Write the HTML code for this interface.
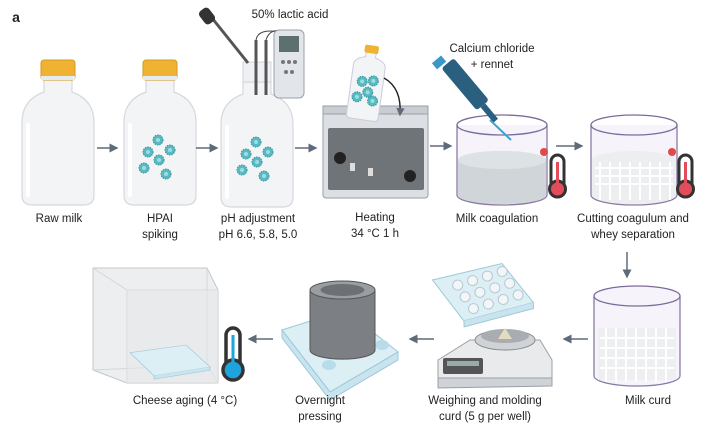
<!DOCTYPE html>
<html><head><meta charset="utf-8"><style>
html,body{margin:0;padding:0;background:#fff;}
svg{display:block;font-family:"Liberation Sans",sans-serif;}
text{font-size:11.5px;fill:#222;text-anchor:middle;}
</style></head><body>
<svg width="713" height="425" viewBox="0 0 713 425" xmlns="http://www.w3.org/2000/svg">
<defs>
<marker id="ah" markerWidth="6" markerHeight="6" refX="5" refY="3" orient="auto"><path d="M0,0 L6,3 L0,6 z" fill="#5f6b7a"/></marker>
<g id="bottle">
<path d="M-14,20 L-14,32 Q-36,40 -36,62 L-36,135 Q-36,145 -26,145 L26,145 Q36,145 36,135 L36,62 Q36,40 14,32 L14,20 Z" fill="#f3f4f6" stroke="#d5d8de" stroke-width="1.2"/>
<path d="M-30,65 L-30,135" stroke="#fff" stroke-width="4" stroke-linecap="round"/>
</g>
<g id="cap"><rect x="-17" y="0" width="34" height="20" rx="3" fill="#f0b233" stroke="#d99a1e"/><rect x="-17" y="16" width="34" height="4" fill="#e6ebf0"/></g>
<g id="virus"><circle r="5" fill="#58b9c0" stroke="#2f95a0" stroke-dasharray="1.5 1"/><circle r="2" fill="#9ddde1"/></g>
<g id="viruses">
<use href="#virus" x="0" y="-18"/><use href="#virus" x="-10" y="-6"/><use href="#virus" x="12" y="-8"/><use href="#virus" x="1" y="2"/><use href="#virus" x="-14" y="10"/><use href="#virus" x="8" y="16"/>
</g>
<g id="plate">
<path d="M0,14 L70,0 L100,40 L30,56 Z" fill="#dceff5" stroke="#9cc8d8"/>
<path d="M30,56 L30,62 L100,46 L100,40" fill="#c9e4ee" stroke="#9cc8d8"/>
</g>
</defs>

<text x="16" y="22" style="font-weight:bold;font-size:14px">a</text>

<use href="#bottle" x="58" y="60"/><use href="#cap" x="58" y="60"/>
<use href="#bottle" x="160" y="60"/><use href="#cap" x="160" y="60"/>
<use href="#viruses" x="158" y="158"/>
<use href="#bottle" x="257" y="62"/>
<rect x="243" y="62" width="28" height="20" fill="#eef0f3" stroke="#d0d4da"/>
<use href="#viruses" x="256" y="160"/>
<line x1="212" y1="18" x2="248" y2="63" stroke="#555" stroke-width="3"/>
<rect x="201" y="8" width="12" height="16" rx="4" fill="#333" transform="rotate(-38 207 16)"/>
<line x1="256" y1="40" x2="256" y2="95" stroke="#555" stroke-width="3"/>
<line x1="266" y1="40" x2="266" y2="95" stroke="#555" stroke-width="3"/>
<path d="M256,40 Q258,28 280,32 M266,40 Q270,26 290,32" stroke="#444" fill="none"/>
<rect x="274" y="30" width="30" height="68" rx="5" fill="#e2e5ea" stroke="#9aa0a8"/>
<rect x="279" y="36" width="20" height="16" fill="#5d6f6f"/>
<circle cx="283" cy="62" r="2" fill="#777"/><circle cx="289" cy="62" r="2" fill="#777"/><circle cx="295" cy="62" r="2" fill="#777"/>
<circle cx="286" cy="72" r="2" fill="#777"/><circle cx="292" cy="72" r="2" fill="#777"/>
<text x="290" y="18">50% lactic acid</text>

<rect x="323" y="106" width="105" height="92" rx="3" fill="#dcdfe3" stroke="#9aa0a8"/>
<rect x="323" y="106" width="105" height="8" fill="#c9ccd1" stroke="#9aa0a8"/>
<g transform="rotate(8 366 90)">
<path d="M350,66 L350,116 Q350,120 354,120 L378,120 Q382,120 382,116 L382,66 Q382,60 371,57 L371,52 L361,52 L361,57 Q350,60 350,66Z" fill="#f3f4f6" stroke="#ccd"/>
<rect x="359" y="45" width="14" height="8" rx="2" fill="#f0b233"/>
<use href="#virus" x="361" y="82"/><use href="#virus" x="372" y="80"/><use href="#virus" x="368" y="92"/><use href="#virus" x="358" y="98"/><use href="#virus" x="374" y="100"/>
</g>
<path d="M384,78 Q402,88 400,115" stroke="#222" stroke-width="1.4" fill="none" marker-end="url(#ah)"/>
<rect x="328" y="128" width="96" height="62" rx="2" fill="#6f7479"/>
<circle cx="340" cy="158" r="6" fill="#222"/><circle cx="410" cy="176" r="6" fill="#222"/>
<rect x="350" y="163" width="5" height="8" fill="#ddd"/><rect x="368" y="168" width="5" height="8" fill="#ddd"/>
<text x="375" y="221">Heating</text><text x="375" y="237">34 °C 1 h</text>

<path d="M457,125 L457,195 A45,10 0 0 0 547,195 L547,125" fill="#f6f3fa" stroke="#8a7aa6" stroke-width="1.3"/>
<path d="M458,160 A44,9 0 0 1 546,160 L546,195 A44,9 0 0 1 458,195Z" fill="#cfd5d9"/>
<ellipse cx="502" cy="160" rx="44" ry="9" fill="#dde2e5"/>
<ellipse cx="502" cy="125" rx="45" ry="10" fill="none" stroke="#7d6a9c" stroke-width="1.3"/>
<g transform="rotate(-40 470 90)"><rect x="462" y="55" width="16" height="55" rx="3" fill="#2a5f80"/><rect x="467" y="110" width="6" height="20" fill="#2a5f80"/><rect x="458" y="45" width="12" height="8" fill="#3a98c8"/></g>
<line x1="490" y1="120" x2="511" y2="140" stroke="#3ba3d0" stroke-width="2"/>
<text x="492" y="52">Calcium chloride</text><text x="492" y="68">+ rennet</text>
<circle cx="544" cy="152" r="4" fill="#e04a4a"/>
<rect x="551" y="155" width="13" height="35" rx="6.5" fill="#fff" stroke="#333" stroke-width="3"/>
<circle cx="557.5" cy="189" r="8" fill="#e34c5a" stroke="#333" stroke-width="3"/>
<line x1="557.5" y1="162" x2="557.5" y2="185" stroke="#e34c5a" stroke-width="3"/>
<text x="497" y="222">Milk coagulation</text>

<path d="M591,125 L591,195 A43,10 0 0 0 677,195 L677,125" fill="#f6f3fa" stroke="#8a7aa6" stroke-width="1.3"/>
<path d="M592,160 A42,9 0 0 1 676,160 L676,195 A42,9 0 0 1 592,195Z" fill="#eceef0"/>
<path d="M595,168 L673,168 M595,176 L673,176 M595,184 L673,184 M600,162 L600,200 M610,162 L610,200 M620,162 L620,200 M630,162 L630,200 M640,162 L640,200 M650,162 L650,200 M660,162 L660,200 M670,162 L670,200" stroke="#fff" stroke-width="2"/>
<ellipse cx="634" cy="125" rx="43" ry="10" fill="none" stroke="#7d6a9c" stroke-width="1.3"/>
<circle cx="672" cy="152" r="4" fill="#e04a4a"/>
<rect x="679" y="155" width="13" height="35" rx="6.5" fill="#fff" stroke="#333" stroke-width="3"/>
<circle cx="685.5" cy="189" r="8" fill="#e34c5a" stroke="#333" stroke-width="3"/>
<line x1="685.5" y1="162" x2="685.5" y2="185" stroke="#e34c5a" stroke-width="3"/>
<text x="633" y="222">Cutting coagulum and</text><text x="633" y="238">whey separation</text>

<text x="59" y="222">Raw milk</text>
<text x="160" y="222">HPAI</text><text x="160" y="238">spiking</text>
<text x="258" y="222">pH adjustment</text><text x="258" y="238">pH 6.6, 5.8, 5.0</text>

<g stroke="#5f6b7a" stroke-width="1.5" marker-end="url(#ah)">
<line x1="97" y1="148" x2="117" y2="148"/>
<line x1="196" y1="148" x2="217" y2="148"/>
<line x1="295" y1="148" x2="316" y2="148"/>
<line x1="430" y1="146" x2="451" y2="146"/>
<line x1="556" y1="146" x2="582" y2="146"/>
<line x1="627" y1="252" x2="627" y2="277"/>
<line x1="588" y1="339" x2="564" y2="339"/>
<line x1="434" y1="339" x2="410" y2="339"/>
<line x1="273" y1="339" x2="249" y2="339"/>
</g>

<path d="M594,296 L594,376 A43,10 0 0 0 680,376 L680,296" fill="#f6f3fa" stroke="#8a7aa6" stroke-width="1.3"/>
<path d="M598,328 L676,328 L676,380 L598,380Z" fill="#eceef0" opacity="0.9"/>
<path d="M600,338 L674,338 M600,348 L674,348 M600,358 L674,358 M600,368 L674,368 M606,328 L606,382 M616,328 L616,382 M626,328 L626,382 M636,328 L636,382 M646,328 L646,382 M656,328 L656,382 M666,328 L666,382" stroke="#fff" stroke-width="2"/>
<ellipse cx="637" cy="296" rx="43" ry="10" fill="#f6f3fa" stroke="#7d6a9c" stroke-width="1.3"/>
<text x="648" y="404">Milk curd</text>

<path d="M438,360 L470,340 L540,340 L552,360 L552,378 L438,378Z" fill="#e9eaec" stroke="#9aa0a8"/>
<path d="M438,378 L552,378 L552,386 L438,388Z" fill="#cfd2d6" stroke="#9aa0a8"/>
<rect x="443" y="358" width="40" height="16" fill="#555" rx="2"/>
<rect x="447" y="361" width="32" height="5" fill="#9aa"/>
<ellipse cx="505" cy="340" rx="30" ry="10" fill="#cfd2d6" stroke="#888"/>
<ellipse cx="505" cy="336" rx="24" ry="7" fill="#a9adb2"/>
<path d="M498,339 L505,328 L512,339Z" fill="#e4dcc0"/>
<g transform="translate(432,266) rotate(-2)"><use href="#plate"/>
<g fill="#f2f6f8" stroke="#b8c8d0"><circle cx="25" cy="20" r="5"/><circle cx="40" cy="16" r="5"/><circle cx="55" cy="12" r="5"/><circle cx="70" cy="8" r="5"/><circle cx="32" cy="32" r="5"/><circle cx="47" cy="28" r="5"/><circle cx="62" cy="24" r="5"/><circle cx="77" cy="20" r="5"/><circle cx="40" cy="44" r="5"/><circle cx="55" cy="40" r="5"/><circle cx="70" cy="36" r="5"/><circle cx="85" cy="32" r="5"/></g></g>
<text x="485" y="404">Weighing and molding</text><text x="485" y="420">curd (5 g per well)</text>

<path d="M282,330 L345,310 L398,352 L330,392 Z" fill="#dceff5" stroke="#9cc8d8"/>
<path d="M282,330 L282,338 L330,400 L398,360 L398,352 L330,392Z" fill="#c9e4ee" stroke="#9cc8d8"/>
<ellipse cx="329" cy="365" rx="7" ry="5" fill="#b8dcea"/><ellipse cx="382" cy="345" rx="7" ry="5" fill="#b8dcea"/>
<path d="M310,290 L310,350 A32,9 0 0 0 375,350 L375,290" fill="#7c7f83" stroke="#555"/>
<ellipse cx="342.5" cy="290" rx="32.5" ry="9" fill="#9a9da1" stroke="#555"/>
<ellipse cx="342.5" cy="290" rx="22" ry="6" fill="#6d7074"/>
<text x="320" y="404">Overnight</text><text x="320" y="420">pressing</text>

<path d="M93,268 L207,268 L218,290 L218,383 L127,383 L93,370Z" fill="#eceeef" stroke="#c3c7cb"/>
<path d="M93,268 L127,290 L218,290 M127,290 L127,383 M207,268 L207,365 L218,383 M93,370 L207,365" fill="none" stroke="#d3d6d9"/>
<rect x="127" y="290" width="91" height="93" fill="#e6e8ea" opacity="0.6"/>
<g transform="translate(130,345) scale(0.8,0.55)"><use href="#plate"/></g>
<rect x="226" y="328" width="14" height="44" rx="7" fill="#fff" stroke="#333" stroke-width="3.5"/>
<circle cx="233" cy="370" r="10" fill="#1ea3dc" stroke="#333" stroke-width="3.5"/>
<line x1="233" y1="335" x2="233" y2="365" stroke="#1ea3dc" stroke-width="3"/>
<text x="185" y="404">Cheese aging (4 °C)</text>
</svg>
</body></html>
